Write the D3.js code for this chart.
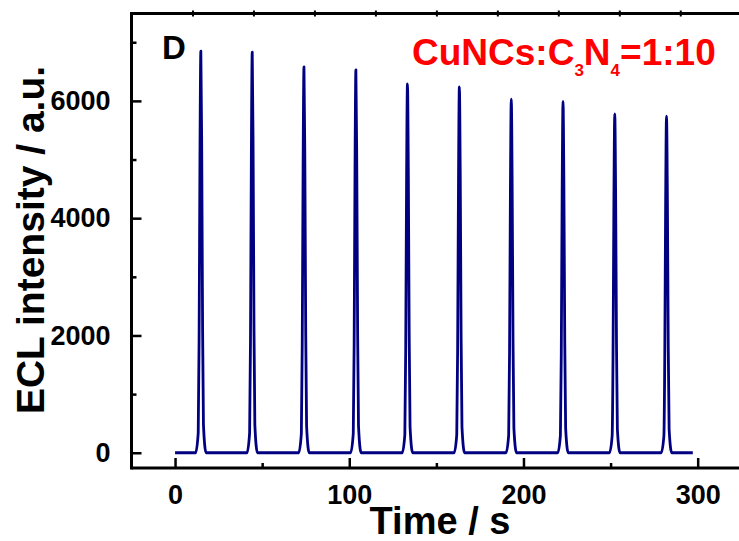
<!DOCTYPE html>
<html>
<head>
<meta charset="utf-8">
<script src="https://cdn.jsdelivr.net/npm/d3@7"></script>
<style>
  html, body { margin: 0; padding: 0; background: #fff; }
  svg { display: block; }
  text { font-family: "Liberation Sans", Arial, sans-serif; font-weight: bold; }
</style>
</head>
<body>
<svg id="chart" width="739" height="541"></svg>
<script>
// ECL emission trace: time (s) and intensity (a.u.), ten pulses
const timeS = [
  0,
  11.8, 13.3, 13.8, 14.3, 14.8, 15.3, 15.8, 16.3, 17.8,
  41.3, 42.8, 43.3, 43.8, 44.3, 44.8, 45.3, 45.8, 47.3,
  71.0, 72.5, 73.0, 73.5, 74.0, 74.5, 75.0, 75.5, 77.0,
  100.8, 102.3, 102.8, 103.3, 103.8, 104.3, 104.8, 105.3, 106.8,
  130.4, 131.9, 132.4, 132.9, 133.4, 133.9, 134.4, 134.9, 136.4,
  160.2, 161.7, 162.2, 162.7, 163.2, 163.7, 164.2, 164.7, 166.2,
  190.0, 191.5, 192.0, 192.5, 193.0, 193.5, 194.0, 194.5, 196.0,
  219.7, 221.2, 221.7, 222.2, 222.7, 223.2, 223.7, 224.2, 225.7,
  249.4, 250.9, 251.4, 251.9, 252.4, 252.9, 253.4, 253.9, 255.4,
  279.1, 280.6, 281.1, 281.6, 282.1, 282.6, 283.1, 283.6, 285.1,
  297.2
];
const intensity = [
  0,
  0, 340, 1920, 5070, 6850, 5210, 2190, 480, 0,
  0, 340, 1910, 5050, 6830, 5190, 2190, 480, 0,
  0, 330, 1840, 4870, 6580, 5000, 2110, 460, 0,
  0, 330, 1830, 4830, 6530, 4960, 2090, 460, 0,
  0, 310, 1760, 4650, 6290, 4780, 2010, 440, 0,
  0, 310, 1750, 4620, 6240, 4740, 2000, 440, 0,
  0, 300, 1690, 4460, 6030, 4580, 1930, 420, 0,
  0, 300, 1680, 4430, 5990, 4550, 1920, 420, 0,
  0, 290, 1620, 4280, 5780, 4390, 1850, 400, 0,
  0, 290, 1610, 4250, 5740, 4360, 1840, 400, 0,
  0
];

// Axis ticks
const xMajorTicks = [0, 100, 200, 300];
const xMinorTicks = [50, 150, 250];
const xTopTicks = [10, 45, 80, 115, 150, 185, 220, 255, 290];
const yMajorTicks = [0, 2000, 4000, 6000];
const yMinorTicks = [1000, 3000, 5000, 7000];

const svg = d3.select("#chart");
const plotLeft = 131.5, plotRight = 739.5, plotTop = 13.5, plotBottom = 468;

const x = d3.scaleLinear().domain([-25, 324]).range([plotLeft, plotRight]);
const y = d3.scaleLinear().domain([-260, 7490]).range([plotBottom, plotTop]);

const points = timeS.map((t, i) => [t, intensity[i]]);

// trace
const line = d3.line()
  .x(d => x(d[0]))
  .y(d => y(d[1]))
  .curve(d3.curveMonotoneX);

svg.append("path")
  .datum(points)
  .attr("d", line)
  .attr("fill", "none")
  .attr("stroke", "#000080")
  .attr("stroke-width", 2.8)
  .attr("stroke-linejoin", "round");

// axes (ticks point inward)
function styleAxis(g) {
  g.select(".domain").remove();
  g.selectAll("line").attr("stroke", "#000").attr("stroke-width", 2.5);
  g.selectAll("text").attr("fill", "#000").style("font-size", "27px");
}

svg.append("g")
  .attr("transform", `translate(0,${plotBottom})`)
  .call(d3.axisBottom(x).tickValues(xMajorTicks).tickSize(-10).tickPadding(17).tickFormat(d3.format("d")))
  .call(styleAxis)
  .call(g => g.selectAll("text").attr("dy", "0.71em"));

svg.append("g")
  .attr("transform", `translate(0,${plotBottom})`)
  .call(d3.axisBottom(x).tickValues(xMinorTicks).tickSize(-5).tickFormat(""))
  .call(styleAxis);

svg.append("g")
  .attr("transform", `translate(0,${plotTop})`)
  .call(d3.axisTop(x).tickValues(xTopTicks).tickSize(3).tickSizeOuter(0).tickFormat(""))
  .call(styleAxis)
  .call(g => g.selectAll("line").attr("stroke-width", 2).attr("y2", 3).attr("y1", -3));

svg.append("g")
  .attr("transform", `translate(${plotLeft},0)`)
  .call(d3.axisLeft(y).tickValues(yMajorTicks).tickSize(-10).tickPadding(21).tickFormat(d3.format("d")))
  .call(styleAxis);

svg.append("g")
  .attr("transform", `translate(${plotLeft},0)`)
  .call(d3.axisLeft(y).tickValues(yMinorTicks).tickSize(-5).tickFormat(""))
  .call(styleAxis);

// frame lines
const frame = svg.append("g").attr("stroke", "#000").attr("stroke-width", 3).attr("fill", "none");
frame.append("path").attr("d", `M${plotLeft},${plotTop}H${plotRight}`);
frame.append("path").attr("d", `M${plotLeft},${plotBottom}H${plotRight}`);
frame.append("path").attr("d", `M${plotLeft},${plotTop - 1.5}V${plotBottom + 1.5}`);

// axis titles
svg.append("text")
  .attr("x", 440).attr("y", 534)
  .attr("text-anchor", "middle")
  .style("font-size", "38px")
  .text("Time / s");

svg.append("text")
  .attr("transform", "translate(44,240) rotate(-90)")
  .attr("text-anchor", "middle")
  .style("font-size", "39px")
  .text("ECL intensity / a.u.");

// panel letter
svg.append("text")
  .attr("x", 162).attr("y", 59)
  .style("font-size", "33px")
  .text("D");

// sample label with subscripts
const lbl = svg.append("text")
  .attr("x", 412).attr("y", 65)
  .attr("fill", "#ff0000")
  .style("font-size", "37px");
lbl.append("tspan").text("CuNCs:C");
lbl.append("tspan").attr("dy", 11).style("font-size", "17px").text("3");
lbl.append("tspan").attr("dy", -11).text("N");
lbl.append("tspan").attr("dy", 11).style("font-size", "17px").text("4");
lbl.append("tspan").attr("dy", -11).text("=1:10");
</script>
</body>
</html>
